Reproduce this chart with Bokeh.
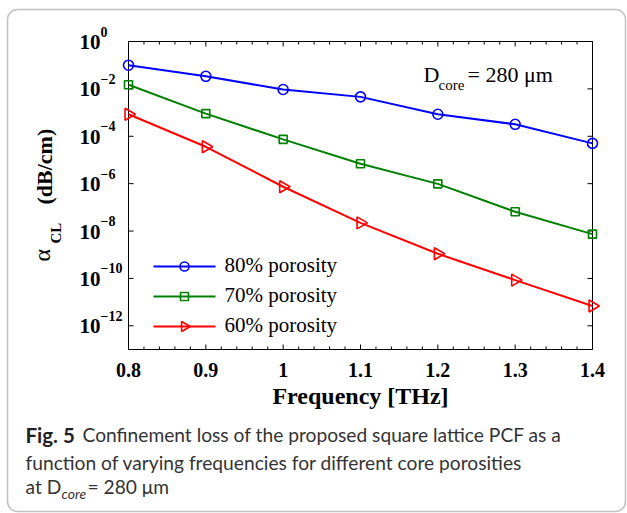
import numpy as np
from bokeh.plotting import figure
from bokeh.models import Label, BoxAnnotation, Range1d, ColumnDataSource
from bokeh.core.properties import value
from bokeh.embed import file_html
from bokeh.resources import INLINE

# Confinement loss (dB/cm) versus frequency for three core porosities
freq_thz = [0.8, 0.9, 1.0, 1.1, 1.2, 1.3, 1.4]
loss_80 = [1.0e-1, 3.4e-2, 9.4e-3, 4.6e-3, 8.5e-4, 3.2e-4, 5.0e-5]
loss_70 = [1.5e-2, 9.0e-4, 7.4e-5, 6.9e-6, 9.8e-7, 6.5e-8, 7.4e-9]
loss_60 = [8.5e-4, 3.6e-5, 7.4e-7, 2.2e-8, 1.1e-9, 8.5e-11, 6.9e-12]
series_labels = ["80% porosity", "70% porosity", "60% porosity"]
x_ticks = [0.8, 0.9, 1.0, 1.1, 1.2, 1.3, 1.4]
y_tick_exponents = [0, -2, -4, -6, -8, -10, -12]

# axis limits
X0, X1 = 0.8, 1.4
LOG0, LOG1 = -13.0, 0.0

# page geometry (pixels): canvas size and the plotting box inside it
W, H = 627, 513
FL, FR, FT, FB = 128, 592, 41, 349

SERIF = "Liberation Serif"
CAPTION_FONT = "Lato"

kx = (X1 - X0) / (FR - FL)          # data units per pixel (x)
ky = (LOG1 - LOG0) / (FB - FT)      # decades per pixel (y)


def xd(cx):
    """canvas pixel x -> data x"""
    return X0 + (cx - FL) * kx


def yd(cy):
    """canvas pixel y (top-down) -> data y (log scale)"""
    return 10.0 ** (LOG1 - (cy - FT) * ky)


def cy_of(v):
    return FT + (LOG1 - np.log10(v)) / ky


# the frame covers the whole canvas so that axis decorations and the caption
# can be drawn anywhere on the page
p = figure(width=W, height=H, x_range=Range1d(xd(0), xd(W)), y_range=Range1d(yd(H), yd(0)),
           y_axis_type="log", x_axis_location=None, y_axis_location=None,
           output_backend="svg", toolbar_location=None, min_border=0)
p.background_fill_color = "white"
p.border_fill_color = "white"
p.outline_line_color = None
p.xgrid.visible = False
p.ygrid.visible = False

# axes box
p.quad(left=[X0], right=[X1], bottom=[10 ** LOG0], top=[10 ** LOG1],
       fill_color=None, line_color="black", line_width=1)

# inward ticks on all four sides
major_len, minor_len = 5, 3
x_minor = [t for t in np.round(np.arange(X0, X1 + 1e-9, 0.02), 2)
           if not np.any(np.isclose(t, x_ticks))]
seg = dict(x0=[], y0=[], x1=[], y1=[])


def add_seg(a, b, c, d):
    seg["x0"].append(a); seg["y0"].append(b); seg["x1"].append(c); seg["y1"].append(d)


for t, ln in [(t, major_len) for t in x_ticks] + [(t, minor_len) for t in x_minor]:
    add_seg(t, 10 ** LOG0, t, yd(FB - ln))
    add_seg(t, 10 ** LOG1, t, yd(FT + ln))
for e in y_tick_exponents:
    add_seg(X0, 10.0 ** e, xd(FL + major_len), 10.0 ** e)
    add_seg(X1, 10.0 ** e, xd(FR - major_len), 10.0 ** e)
p.segment(x0="x0", y0="y0", x1="x1", y1="y1", source=ColumnDataSource(seg),
          line_color="black", line_width=1)

# x tick labels and axis title
p.text(x=x_ticks, y=[yd(369)] * len(x_ticks), text=[f"{t:g}" for t in x_ticks],
       text_align="center", text_baseline="middle", text_font=value(SERIF),
       text_font_style="bold", text_font_size="20px", text_color="black")
p.text(x=[(X0 + X1) / 2], y=[yd(395)], text=["Frequency [THz]"],
       text_align="center", text_baseline="middle", text_font=value(SERIF),
       text_font_style="bold", text_font_size="24px", text_color="black")

# y tick labels: 10 with a raised exponent
ytick_vals = [10.0 ** e for e in y_tick_exponents]
p.text(x=[xd(100)] * len(ytick_vals), y=[yd(cy_of(v) + 0.5) for v in ytick_vals],
       text=["10"] * len(ytick_vals), text_align="right", text_baseline="middle",
       text_font=value(SERIF), text_font_style="bold", text_font_size="21px",
       text_color="black")
p.text(x=[xd(100)] * len(ytick_vals), y=[yd(cy_of(v) - 10) for v in ytick_vals],
       text=[str(e).replace("-", "\u2212") for e in y_tick_exponents],
       text_align="left", text_baseline="middle",
       text_font=value(SERIF), text_font_style="bold", text_font_size="14px",
       text_color="black")


def lab(text, cx, cy, size, style="normal", font=SERIF, color="black", angle=0.0):
    """text whose vertical middle sits at canvas pixel (cx, cy)"""
    p.add_layout(Label(x=cx, y=H - cy, x_units="screen", y_units="screen",
                       text=text, text_align="left", text_baseline="middle",
                       angle=angle, text_font=font, text_font_style=style,
                       text_font_size=size, text_color=color))


# series
styles = [
    (loss_80, "#0000ff", "circle", 10, 9, 0.0),
    (loss_70, "#008000", "square", 8, 8, 0.0),
    (loss_60, "#ff0000", "triangle", 12, 10, -np.pi / 2),
]
legend_rows = [266, 296, 326]
for (vals, col, mk, sz, lsz, ang), name, row in zip(styles, series_labels, legend_rows):
    p.line(freq_thz, vals, line_color=col, line_width=2)
    p.scatter(freq_thz, vals, marker=mk, size=sz, angle=ang,
              fill_color=None, line_color=col, line_width=1.6)
    # legend entry
    p.line([xd(153), xd(215)], [yd(row), yd(row)], line_color=col, line_width=2)
    p.scatter([xd(184)], [yd(row)], marker=mk, size=lsz, angle=ang,
              fill_color=None, line_color=col, line_width=1.6)
    lab(name, 224, row - 1.5, "21px")

# y axis title: alpha_CL (dB/cm), rotated
lab("\u03b1", 41, 261, "24px", angle=np.pi / 2)
lab("CL", 55.5, 243, "15px", style="bold", angle=np.pi / 2)
lab("(dB/cm)", 43.5, 204, "22px", style="bold", angle=np.pi / 2)

# core diameter note
lab("D", 423, 73.5, "22px")
lab("core", 438, 84.5, "15px")
lab("= 280 \u03bcm", 467, 73.5, "22px")

# figure caption
cap_col = "#333333"
cap_size = "19.2px"
lab("Fig. 5", 25, 434, "20.5px", style="bold", font=CAPTION_FONT, color="#222222")
lab("Confinement loss of the proposed square lattice PCF as a", 82, 434, cap_size,
    font=CAPTION_FONT, color=cap_col)
lab("function of varying frequencies for different core porosities", 25, 462, cap_size,
    font=CAPTION_FONT, color=cap_col)
lab("at D", 25, 486, cap_size, font=CAPTION_FONT, color=cap_col)
lab("core", 61, 493, "14px", style="italic", font=CAPTION_FONT, color=cap_col)
lab("= 280 \u03bcm", 87, 486, cap_size, font=CAPTION_FONT, color=cap_col)

# rounded panel border
p.add_layout(BoxAnnotation(left=7, right=625, top=H - 9, bottom=H - 511,
                           left_units="screen", right_units="screen",
                           top_units="screen", bottom_units="screen",
                           fill_alpha=0, line_color="#333333", line_width=1.5,
                           border_radius=10))

open("out.html", "w").write(file_html(p, INLINE))
